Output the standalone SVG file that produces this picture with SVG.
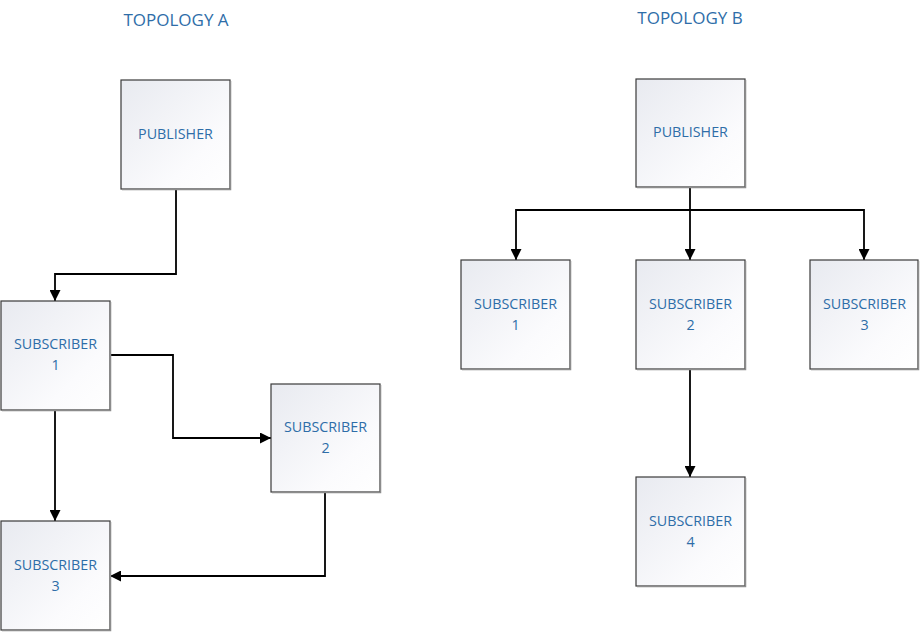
<svg xmlns="http://www.w3.org/2000/svg" width="920" height="632" viewBox="0 0 920 632">
<style>
.box{fill:url(#g);stroke:#3a3a3a;stroke-width:1.2}
.sh{fill:none;stroke:#8c8c8c;stroke-width:1.5}
.t{font-family:"Open Sans","Noto Sans",sans-serif;font-size:14.3px;fill:#2e6da8;text-anchor:middle}
.ti{font-family:"Open Sans","Noto Sans",sans-serif;font-size:17px;fill:#2e6da8;text-anchor:middle}
.c{fill:none;stroke:#000;stroke-width:1.8;marker-end:url(#a)}
</style>
<defs>
<linearGradient id="g" x1="0" y1="0" x2="1" y2="1">
<stop offset="0" stop-color="#e8eaf0"/>
<stop offset="0.7" stop-color="#fbfbfd"/>
<stop offset="1" stop-color="#ffffff"/>
</linearGradient>
<marker id="a" viewBox="0 0 11 11" refX="11" refY="5.5" markerWidth="11" markerHeight="11" markerUnits="userSpaceOnUse" orient="auto">
<path d="M0,0 L11,5.5 L0,11 z" fill="#000"/>
</marker>
</defs>
<text class="ti" x="176" y="26">TOPOLOGY A</text>
<text class="ti" x="690" y="24">TOPOLOGY B</text>
<g id="connectors">
<path class="c" d="M176,189 V274 H55 V301"/>
<path class="c" d="M110,355 H173 V438 H271"/>
<path class="c" d="M55,410 V521"/>
<path class="c" d="M325,492 V576 H110"/>
<path class="c" d="M690,187 V260"/>
<path class="c" d="M690,210 H516 V260"/>
<path class="c" d="M690,210 H864 V260"/>
<path class="c" d="M690,369 V477"/>
</g>
<g id="a-publisher"><rect class="box" x="121" y="80" width="109" height="109"/><path class="sh" d="M122,189.5 H230.5 V81"/><text class="t" x="175.5" y="139">PUBLISHER</text></g>
<g id="a-sub1"><rect class="box" x="1" y="301" width="109" height="109"/><path class="sh" d="M2,410.5 H110.5 V302"/><text class="t" x="55.5" y="349">SUBSCRIBER</text><text class="t" x="55.5" y="370">1</text></g>
<g id="a-sub2"><rect class="box" x="271" y="384" width="109" height="108"/><path class="sh" d="M272,492.5 H380.5 V385"/><text class="t" x="325.5" y="432">SUBSCRIBER</text><text class="t" x="325.5" y="453">2</text></g>
<g id="a-sub3"><rect class="box" x="1" y="521" width="109" height="109"/><path class="sh" d="M2,630.5 H110.5 V522"/><text class="t" x="55.5" y="570">SUBSCRIBER</text><text class="t" x="55.5" y="591">3</text></g>
<g id="b-publisher"><rect class="box" x="636" y="79" width="109" height="108"/><path class="sh" d="M637,187.5 H745.5 V80"/><text class="t" x="690.5" y="137">PUBLISHER</text></g>
<g id="b-sub1"><rect class="box" x="461" y="260" width="109" height="109"/><path class="sh" d="M462,369.5 H570.5 V261"/><text class="t" x="515.5" y="309">SUBSCRIBER</text><text class="t" x="515.5" y="330">1</text></g>
<g id="b-sub2"><rect class="box" x="636" y="260" width="109" height="109"/><path class="sh" d="M637,369.5 H745.5 V261"/><text class="t" x="690.5" y="309">SUBSCRIBER</text><text class="t" x="690.5" y="330">2</text></g>
<g id="b-sub3"><rect class="box" x="810" y="260" width="108" height="109"/><path class="sh" d="M811,369.5 H918.5 V261"/><text class="t" x="864.5" y="309">SUBSCRIBER</text><text class="t" x="864.5" y="330">3</text></g>
<g id="b-sub4"><rect class="box" x="636" y="477" width="109" height="109"/><path class="sh" d="M637,586.5 H745.5 V478"/><text class="t" x="690.5" y="526">SUBSCRIBER</text><text class="t" x="690.5" y="547">4</text></g>
</svg>
